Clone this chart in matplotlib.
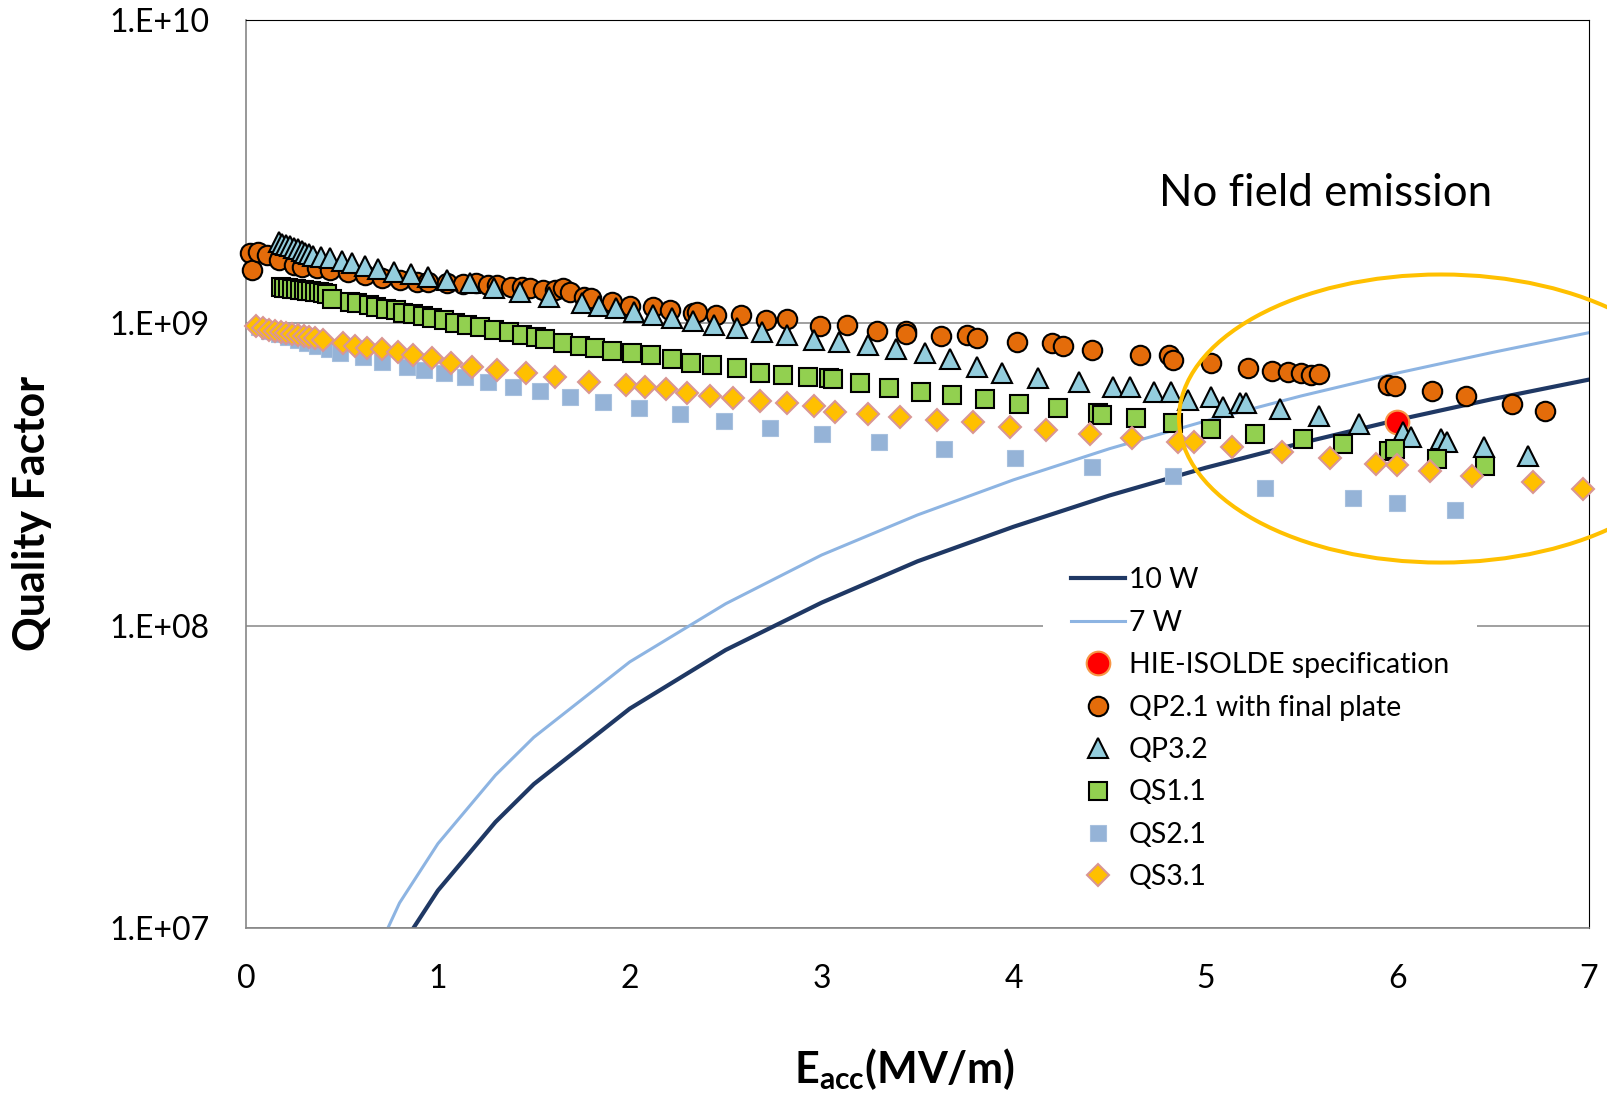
import numpy as np
import matplotlib
matplotlib.use("Agg")
import matplotlib.pyplot as plt
from matplotlib.patches import Ellipse

#police proche de Calibri
plt.rcParams['font.family'] = ['Lato', 'DejaVu Sans']
plt.rcParams['mathtext.fontset'] = 'custom'
plt.rcParams['mathtext.rm'] = 'Lato'
plt.rcParams['mathtext.bf'] = 'Lato:bold'
plt.rcParams['mathtext.it'] = 'Lato:italic'

#### Données ####

#courbes de puissance dissipée
e_lines = [0.5, 0.8, 1.0, 1.3, 1.5, 2.0, 2.5, 3.0, 3.5, 4.0, 4.5, 5.0, 5.5, 6.0, 6.5, 7.0]
q_10w = [3.3e6, 8.5e6, 1.33e7, 2.24e7, 2.99e7, 5.31e7, 8.3e7, 1.19e8, 1.63e8, 2.12e8,
         2.69e8, 3.32e8, 4.01e8, 4.78e8, 5.61e8, 6.5e8]
q_7w = [4.7e6, 1.21e7, 1.9e7, 3.2e7, 4.27e7, 7.58e7, 1.18e8, 1.71e8, 2.32e8, 3.03e8,
        3.84e8, 4.74e8, 5.74e8, 6.83e8, 8.0e8, 9.29e8]

#specification HIE-ISOLDE
e_spec = [6.0]
q_spec = [4.7e8]

#QP2.1 with final plate (Q en 1e8)
e_qp21 = [0.02, 0.03, 0.06, 0.11, 0.17, 0.25, 0.29, 0.37, 0.44, 0.53, 0.62, 0.71, 0.80, 0.89,
          0.95, 1.05, 1.13, 1.20, 1.26, 1.31, 1.38, 1.44, 1.48, 1.55, 1.61, 1.65, 1.69, 1.76,
          1.80, 1.91, 2.00, 2.12, 2.21, 2.33, 2.35, 2.45, 2.58, 2.71, 2.82, 2.99, 3.13, 3.29,
          3.44, 3.44, 3.62, 3.76, 3.81, 4.02, 4.20, 4.26, 4.41, 4.66, 4.81, 4.83, 5.03, 5.22,
          5.35, 5.43, 5.50, 5.55, 5.59, 5.95, 5.99, 6.18, 6.36, 6.60, 6.77]
q_qp21 = [17.0, 15.0, 17.2, 16.8, 16.2, 15.6, 15.3, 15.2, 15.0, 14.7, 14.4, 14.1, 13.9, 13.7,
          13.7, 13.6, 13.5, 13.6, 13.4, 13.4, 13.2, 13.2, 13.1, 12.9, 12.9, 13.1, 12.7, 12.2,
          12.1, 11.7, 11.4, 11.3, 11.0, 10.8, 10.9, 10.6, 10.6, 10.2, 10.3, 9.77, 9.85, 9.41,
          9.41, 9.2, 9.06, 9.13, 8.92, 8.65, 8.59, 8.40, 8.14, 7.84, 7.84, 7.55, 7.38, 7.10,
          6.94, 6.89, 6.83, 6.73, 6.78, 6.24, 6.19, 5.96, 5.74, 5.40, 5.12]

#QP3.2
e_qp32 = [0.17, 0.19, 0.21, 0.23, 0.25, 0.27, 0.29, 0.31, 0.33, 0.35, 0.39, 0.44, 0.50, 0.55,
          0.62, 0.69, 0.77, 0.86, 0.95, 1.05, 1.17, 1.29, 1.43, 1.58, 1.75, 1.84, 1.93, 2.02,
          2.12, 2.22, 2.33, 2.44, 2.56, 2.69, 2.82, 2.96, 3.09, 3.24, 3.39, 3.54, 3.67, 3.81,
          3.94, 4.13, 4.34, 4.52, 4.61, 4.73, 4.82, 4.91, 5.03, 5.09, 5.18, 5.21, 5.39, 5.59,
          5.80, 6.03, 6.07, 6.23, 6.26, 6.45, 6.68]
q_qp32 = [18.5, 18.3, 18.1, 17.9, 17.7, 17.5, 17.3, 17.1, 16.9, 16.7, 16.5, 16.4, 16.0, 15.8,
          15.4, 15.1, 14.7, 14.5, 14.2, 13.9, 13.6, 13.05, 12.7, 12.2, 11.65, 11.4, 11.2, 10.9,
          10.6, 10.4, 10.15, 9.85, 9.63, 9.34, 9.13, 8.79, 8.65, 8.46, 8.20, 7.96, 7.60, 7.15,
          6.83, 6.58, 6.38, 6.14, 6.14, 5.91, 5.91, 5.57, 5.69, 5.28, 5.44, 5.44, 5.20, 4.93,
          4.64, 4.36, 4.20, 4.14, 4.04, 3.89, 3.63]

#QS1.1
e_qs11 = [0.18, 0.20, 0.22, 0.24, 0.26, 0.28, 0.30, 0.32, 0.34, 0.36, 0.38, 0.40, 0.42, 0.45,
          0.54, 0.58, 0.64, 0.68, 0.73, 0.78, 0.82, 0.87, 0.92, 0.97, 1.03, 1.09, 1.15, 1.22,
          1.29, 1.37, 1.44, 1.51, 1.56, 1.65, 1.74, 1.82, 1.91, 2.01, 2.11, 2.22, 2.32, 2.43,
          2.56, 2.68, 2.80, 2.93, 3.04, 3.06, 3.20, 3.35, 3.52, 3.68, 3.85, 4.03, 4.23, 4.44,
          4.46, 4.64, 4.83, 5.03, 5.26, 5.51, 5.72, 5.96, 5.99, 6.21, 6.46]
q_qs11 = [13.2, 13.1, 13.1, 13.0, 13.0, 12.9, 12.9, 12.8, 12.8, 12.7, 12.7, 12.6, 12.5, 12.0,
          11.7, 11.6, 11.5, 11.3, 11.1, 11.0, 10.8, 10.7, 10.55, 10.4, 10.2, 10.0, 9.85, 9.70,
          9.48, 9.34, 9.13, 8.99, 8.85, 8.59, 8.40, 8.27, 8.08, 7.96, 7.84, 7.60, 7.38, 7.26,
          7.10, 6.83, 6.73, 6.63, 6.58, 6.53, 6.33, 6.10, 5.91, 5.78, 5.61, 5.40, 5.24, 5.04,
          4.97, 4.85, 4.67, 4.46, 4.30, 4.14, 3.98, 3.78, 3.84, 3.55, 3.37]

#QS2.1
e_qs21 = [0.07, 0.12, 0.17, 0.22, 0.27, 0.32, 0.37, 0.43, 0.49, 0.61, 0.71, 0.84, 0.93, 1.03,
          1.14, 1.26, 1.39, 1.53, 1.69, 1.86, 2.05, 2.26, 2.49, 2.73, 3.00, 3.30, 3.64, 4.01,
          4.41, 4.83, 5.31, 5.77, 6.00, 6.30]
q_qs21 = [9.7, 9.4, 9.2, 9.0, 8.8, 8.6, 8.4, 8.2, 7.96, 7.72, 7.43, 7.16, 7.0, 6.84,
          6.63, 6.38, 6.14, 5.96, 5.69, 5.48, 5.24, 5.0, 4.74, 4.5, 4.3, 4.04, 3.83, 3.58,
          3.34, 3.12, 2.85, 2.64, 2.54, 2.41]

#QS3.1
e_qs31 = [0.05, 0.09, 0.12, 0.15, 0.18, 0.21, 0.24, 0.27, 0.30, 0.33, 0.36, 0.40, 0.505, 0.57,
          0.63, 0.71, 0.79, 0.87, 0.97, 1.07, 1.18, 1.31, 1.46, 1.61, 1.79, 1.98, 2.08, 2.19,
          2.30, 2.42, 2.54, 2.68, 2.82, 2.96, 3.07, 3.24, 3.41, 3.60, 3.79, 3.98, 4.17, 4.40,
          4.62, 4.86, 4.94, 5.14, 5.40, 5.65, 5.89, 6.00, 6.17, 6.39, 6.71, 6.97]
q_qs31 = [9.78, 9.6, 9.5, 9.4, 9.35, 9.3, 9.2, 9.1, 9.05, 9.0, 8.9, 8.8, 8.59, 8.40,
          8.27, 8.2, 8.02, 7.84, 7.66, 7.38, 7.16, 7.0, 6.84, 6.63, 6.38, 6.24, 6.14, 6.05,
          5.87, 5.74, 5.65, 5.52, 5.44, 5.32, 5.08, 5.0, 4.89, 4.78, 4.71, 4.53, 4.43, 4.29,
          4.17, 4.04, 4.04, 3.89, 3.74, 3.58, 3.42, 3.40, 3.24, 3.12, 2.98, 2.83]

y_ticks = [1e7, 1e8, 1e9, 1e10]
y_labels = ['1.E+07', '1.E+08', '1.E+09', '1.E+10']
x_ticks = [0, 1, 2, 3, 4, 5, 6, 7]

#### Figure ####
fig = plt.figure(figsize=(16.08, 10.95), dpi=100)
ax = fig.add_axes([0.1530, 0.1525, 0.8352, 0.8288])

h10, = ax.plot(e_lines, q_10w, color='#1F3864', lw=3.0, label='10 W', zorder=2)
h7, = ax.plot(e_lines, q_7w, color='#8DB4E2', lw=2.2, label='7 W', zorder=2)

hspec, = ax.plot(e_spec, q_spec, ls='none', marker='o', ms=17, mfc='#FF0000', mec='#F79646',
                 mew=1.5, label='HIE-ISOLDE specification', zorder=3, clip_on=False)
hqp21, = ax.plot(e_qp21, np.array(q_qp21) * 1e8, ls='none', marker='o', ms=14, mfc='#E46C0A',
                 mec='black', mew=1.5, label='QP2.1 with final plate', zorder=3, clip_on=False)
hqp32, = ax.plot(e_qp32, np.array(q_qp32) * 1e8, ls='none', marker='^', ms=15, mfc='#93CDDD',
                 mec='black', mew=1.5, label='QP3.2', zorder=3, clip_on=False)
hqs11, = ax.plot(e_qs11, np.array(q_qs11) * 1e8, ls='none', marker='s', ms=13.5, mfc='#92D050',
                 mec='black', mew=1.5, label='QS1.1', zorder=3, clip_on=False)
hqs21, = ax.plot(e_qs21, np.array(q_qs21) * 1e8, ls='none', marker='s', ms=11, mfc='#95B3D7',
                 mec='#A7C0DE', mew=0.8, label='QS2.1', zorder=3, clip_on=False)
hqs31, = ax.plot(e_qs31, np.array(q_qs31) * 1e8, ls='none', marker='D', ms=11, mfc='#FFC000',
                 mec='#D99694', mew=1.5, label='QS3.1', zorder=3, clip_on=False)

#axes
ax.set_yscale('log')
ax.set_ylim(1e7, 1e10)
ax.set_xlim(0, 7)
ax.set_yticks(y_ticks)
ax.set_yticklabels(y_labels)
ax.yaxis.set_minor_locator(matplotlib.ticker.NullLocator())
ax.set_xticks(x_ticks)
ax.tick_params(axis='both', length=0, labelsize=23, colors='black')
ax.tick_params(axis='y', pad=26)
ax.tick_params(axis='x', pad=26)
ax.grid(axis='y', color='#868686', lw=1.1)
ax.set_axisbelow(True)
for s in ['top', 'right']:
    ax.spines[s].set_color('black')
    ax.spines[s].set_linewidth(0.8)
for s in ['left', 'bottom']:
    ax.spines[s].set_color('#868686')
    ax.spines[s].set_linewidth(1.2)

#titres des axes
fig.text(0.0199, 0.5315, 'Quality Factor', rotation=90, ha='center', va='center',
         fontsize=31, fontweight='bold')
fig.text(0.5628, 0.0105, r'$\mathbf{E_{acc}(MV/m)}$', ha='center', va='baseline', fontsize=31)

#annotation
fig.text(0.8243, 0.8237, 'No field emission', ha='center', va='center', fontsize=31.6)
ell = Ellipse((0.8898, 0.5614), 0.3902, 0.3174, transform=ax.transAxes, fill=False,
              ec='#FFC000', lw=2.9, clip_on=False, zorder=6)
ax.add_patch(ell)

#legende
leg = ax.legend(handles=[h10, h7, hspec, hqp21, hqp32, hqs11, hqs21, hqs31],
                loc='upper left', bbox_to_anchor=(0.6486, 0.5078), bbox_transform=fig.transFigure,
                fontsize=20.4, frameon=True, fancybox=False, borderaxespad=0, borderpad=1.0,
                handlelength=1.9, handletextpad=0.12, labelspacing=0.58, numpoints=1)
leg.get_frame().set_facecolor('white')
leg.get_frame().set_edgecolor('none')
leg.get_frame().set_alpha(1)

fig.savefig('out.png', dpi=100)
